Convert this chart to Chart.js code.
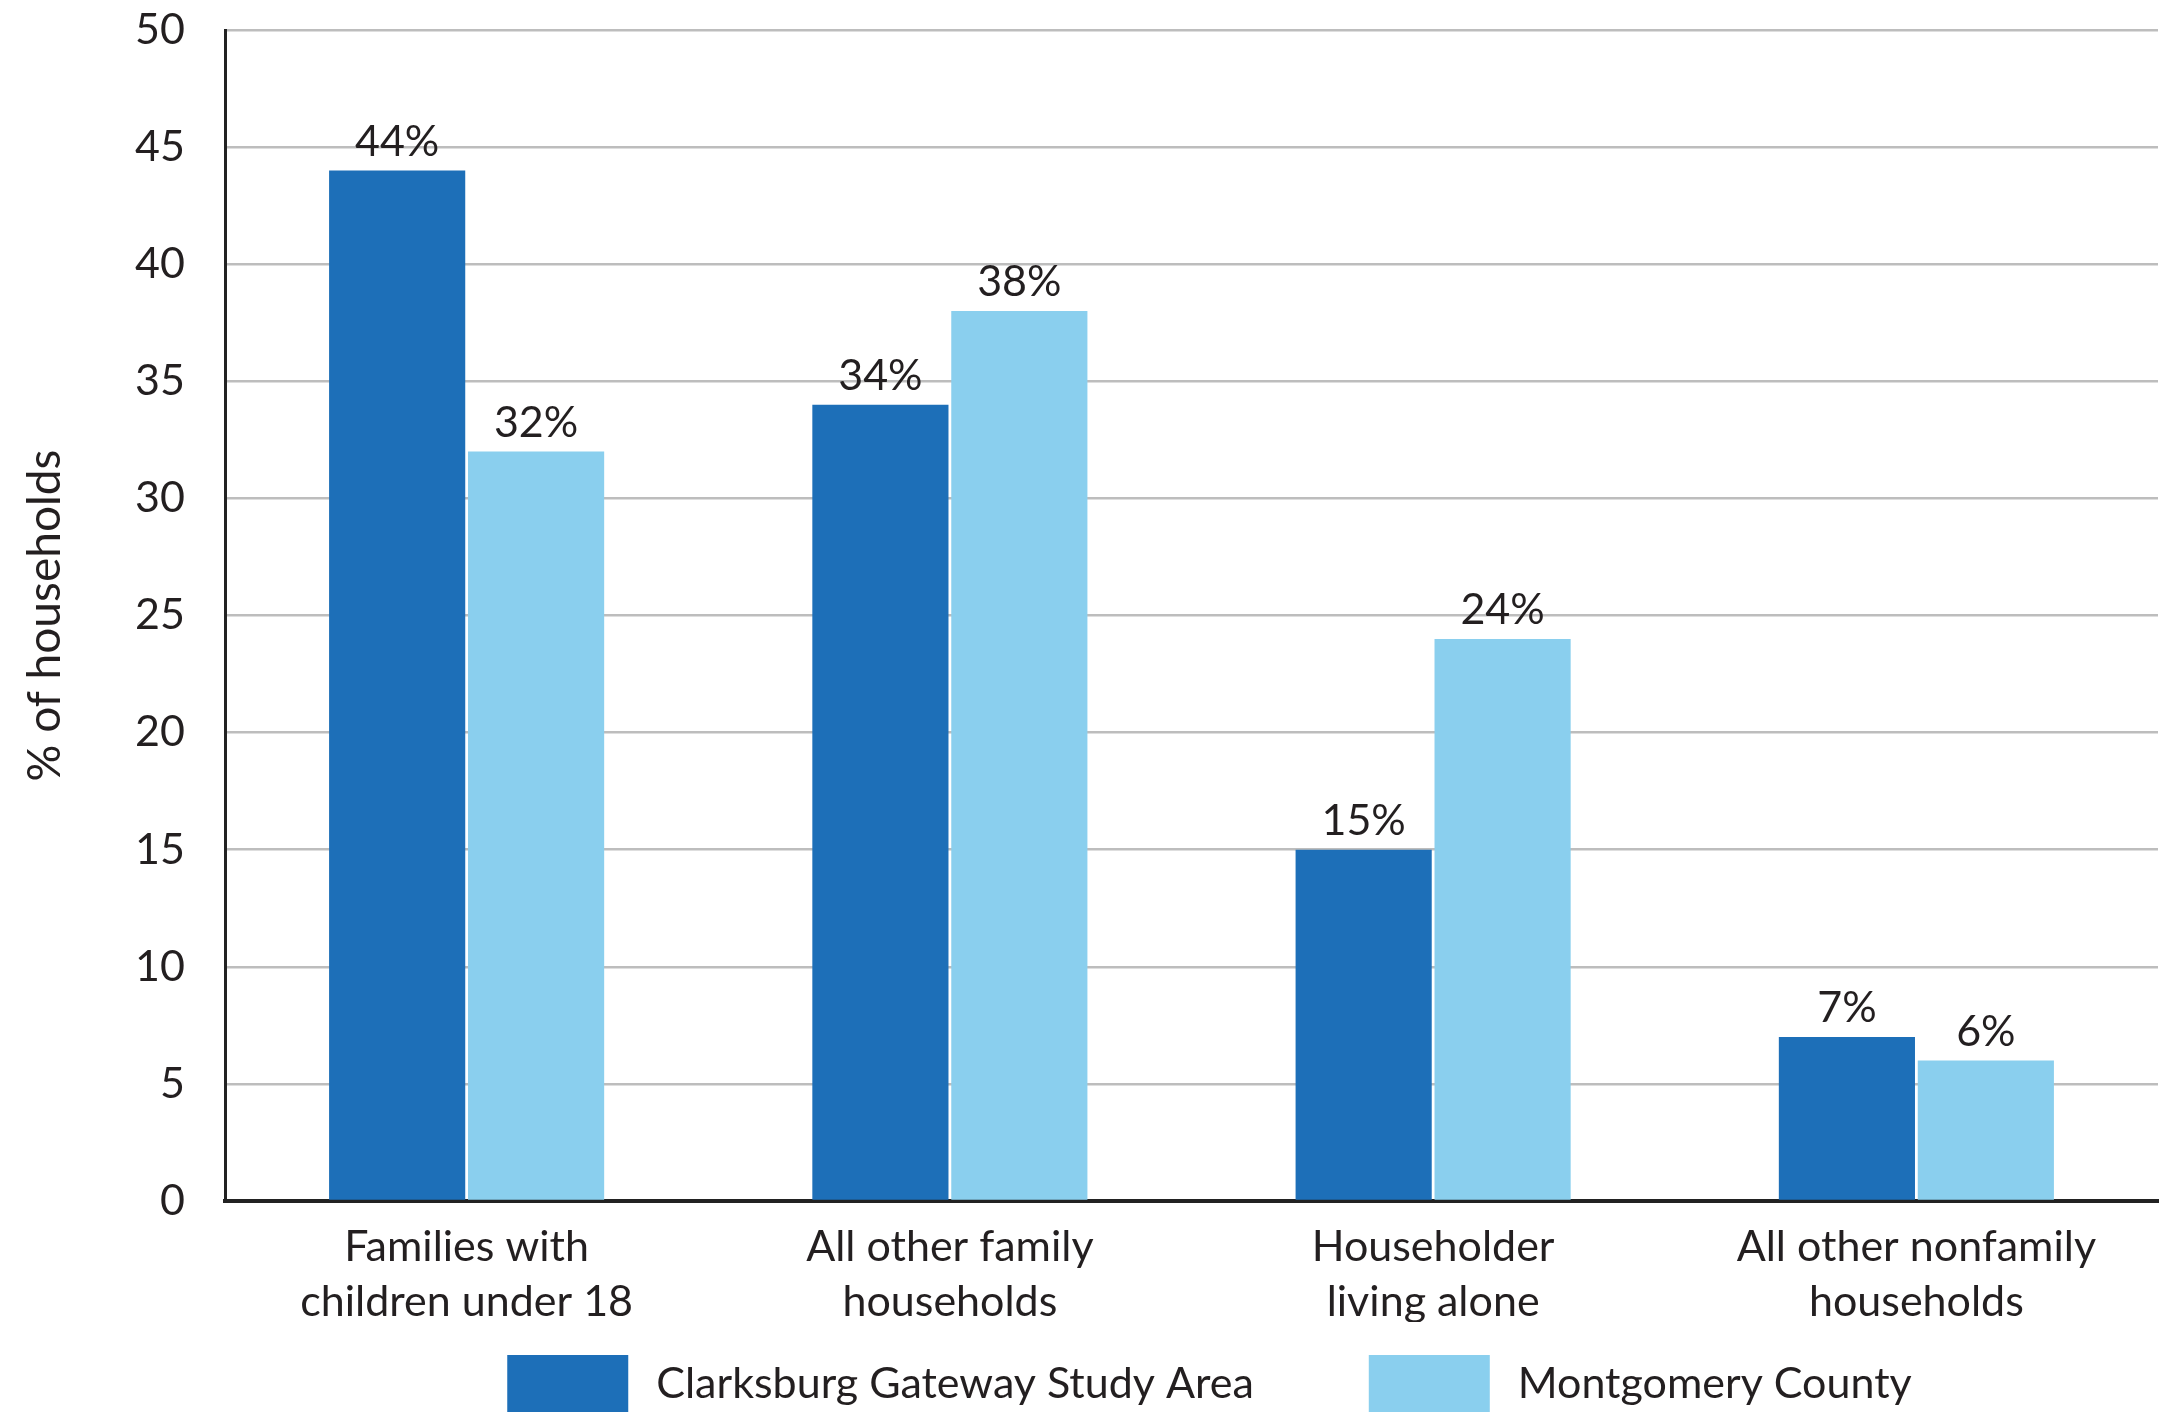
<!DOCTYPE html>
<html>
<head>
<meta charset="utf-8">
<script src="https://cdn.jsdelivr.net/npm/chart.js@4.4.1/dist/chart.umd.min.js"></script>
<style>
  html, body { margin: 0; padding: 0; background: #fff; overflow: hidden; }
</style>
</head>
<body>
<canvas id="households-chart" width="2175" height="1412"></canvas>
<script>
// data
const categories = [
  ['Families with', 'children under 18'],
  ['All other family', 'households'],
  ['Householder', 'living alone'],
  ['All other nonfamily', 'households']
];
const seriesNames = ['Clarksburg Gateway Study Area', 'Montgomery County'];
const studyArea = [44, 34, 15, 7];
const county = [32, 38, 24, 6];
const yMin = 0;
const yMax = 50;
const yStep = 5;

const darkBlue = '#1d6fb8';
const lightBlue = '#8acfee';
const textColor = '#231f20';
const fontFamily = 'Lato, "Liberation Sans", sans-serif';
const fontSize = 43;

// value labels on top of bars
const barLabels = {
  id: 'barLabels',
  afterDatasetsDraw(chart) {
    const ctx = chart.ctx;
    ctx.save();
    ctx.font = fontSize + 'px ' + fontFamily;
    ctx.fillStyle = textColor;
    ctx.textAlign = 'center';
    ctx.textBaseline = 'bottom';
    chart.data.datasets.forEach((ds, i) => {
      chart.getDatasetMeta(i).data.forEach((bar, j) => {
        ctx.fillText(ds.data[j] + '%', bar.x, bar.y - 7);
      });
    });
    ctx.restore();
  }
};

// legend with big square swatches, cut off at the bottom edge like the original
const bottomLegend = {
  id: 'bottomLegend',
  afterDraw(chart) {
    const ctx = chart.ctx;
    const area = chart.chartArea;
    const boxW = 121, boxH = 58, gap = 28, itemGap = 115;
    ctx.save();
    ctx.font = fontSize + 'px ' + fontFamily;
    const items = chart.data.datasets.map(ds => ({
      text: ds.label,
      color: ds.backgroundColor,
      w: boxW + gap + ctx.measureText(ds.label).width
    }));
    const total = items.reduce((s, it) => s + it.w, 0) + itemGap * (items.length - 1);
    let x = (area.left + area.right) / 2 + 18 - total / 2;
    const cy = chart.height - 28;
    ctx.textBaseline = 'middle';
    ctx.textAlign = 'left';
    items.forEach(it => {
      ctx.fillStyle = it.color;
      ctx.fillRect(x, cy - boxH / 2, boxW, boxH);
      ctx.fillStyle = textColor;
      ctx.fillText(it.text, x + boxW + gap, cy);
      x += it.w + itemGap;
    });
    ctx.restore();
  }
};

Chart.defaults.font.family = fontFamily;
Chart.defaults.font.size = fontSize;
Chart.defaults.color = textColor;

new Chart(document.getElementById('households-chart').getContext('2d'), {
  type: 'bar',
  data: {
    labels: categories,
    datasets: [
      {
        label: seriesNames[0],
        data: studyArea,
        backgroundColor: darkBlue,
        categoryPercentage: 0.575,
        barPercentage: 0.98
      },
      {
        label: seriesNames[1],
        data: county,
        backgroundColor: lightBlue,
        categoryPercentage: 0.575,
        barPercentage: 0.98
      }
    ]
  },
  options: {
    responsive: false,
    animation: false,
    layout: { padding: { top: 30, right: 17, bottom: 90, left: 0 } },
    plugins: {
      legend: { display: false },
      tooltip: { enabled: false }
    },
    scales: {
      x: {
        grid: { display: false, drawTicks: false },
        border: { color: '#222', width: 4 },
        ticks: {
          padding: 18,
          maxRotation: 0,
          font: { size: fontSize, lineHeight: 1.29 },
          color: textColor
        },
        afterFit: scale => { scale.height = 121; }
      },
      y: {
        min: yMin,
        max: yMax,
        // gap between labels and axis comes from an invisible tick mark
        ticks: { stepSize: yStep, padding: 0, color: textColor },
        grid: {
          color: '#bdbdbd',
          lineWidth: 2.5,
          drawTicks: true,
          tickLength: 40,
          tickColor: 'rgba(0,0,0,0)'
        },
        border: { color: '#222', width: 3 },
        title: {
          display: true,
          text: '% of households',
          color: textColor,
          font: { size: 46 },
          padding: { top: 18, bottom: 0 }
        },
        afterFit: scale => { scale.width = 225; }
      }
    }
  },
  plugins: [barLabels, bottomLegend]
});
</script>
</body>
</html>
